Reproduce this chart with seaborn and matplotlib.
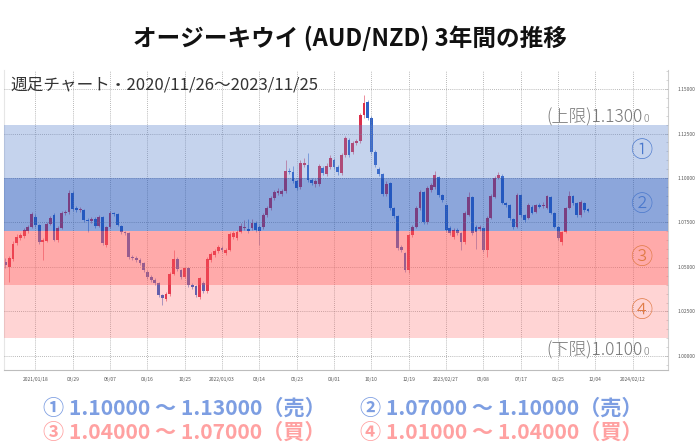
import matplotlib
matplotlib.use("Agg")
import matplotlib.pyplot as plt
import matplotlib.dates as mdates
from matplotlib.ticker import MultipleLocator, FormatStrFormatter
import numpy as np
import pandas as pd
import seaborn as sns

# ---------------- data (weekly AUD/NZD candles) ----------------
start_week = "2020-11-23"
opens = [1.0528, 1.0500, 1.0545, 1.0635, 1.0663, 1.0674, 1.0702, 1.0725, 1.0781, 1.0736,
         1.0640, 1.0646, 1.0742, 1.0792, 1.0652, 1.0719, 1.0803, 1.0809, 1.0916, 1.0831,
         1.0820, 1.0820, 1.0764, 1.0758, 1.0770, 1.0730, 1.0781, 1.0624, 1.0725, 1.0803,
         1.0798, 1.0730, 1.0697, 1.0691, 1.0556, 1.0551, 1.0539, 1.0522, 1.0472, 1.0444,
         1.0427, 1.0410, 1.0343, 1.0320, 1.0348, 1.0461, 1.0545, 1.0483, 1.0444, 1.0494,
         1.0399, 1.0393, 1.0331, 1.0410, 1.0365, 1.0539, 1.0567, 1.0590, 1.0607, 1.0579,
         1.0596, 1.0669, 1.0663, 1.0697, 1.0719, 1.0713, 1.0719, 1.0747, 1.0725, 1.0725,
         1.0792, 1.0831, 1.0888, 1.0916, 1.0910, 1.0927, 1.1039, 1.1034, 1.0983, 1.0949,
         1.1073, 1.1073, 1.0989, 1.0966, 1.0966, 1.1056, 1.1022, 1.1062, 1.1101, 1.1062,
         1.1028, 1.1129, 1.1213, 1.1146, 1.1197, 1.1208, 1.1354, 1.1427, 1.1337, 1.1146,
         1.1051, 1.1022, 1.0910, 1.0972, 1.0831, 1.0787, 1.0612, 1.0579, 1.0483, 1.0680,
         1.0725, 1.0831, 1.0921, 1.0753, 1.0933, 1.0949, 1.1006, 1.0904, 1.0848, 1.0719,
         1.0669, 1.0708, 1.0691, 1.0640, 1.0792, 1.0893, 1.0725, 1.0713, 1.0719, 1.0596,
         1.0775, 1.0893, 1.1000, 1.1011, 1.0860, 1.0848, 1.0770, 1.0725, 1.0904, 1.0792,
         1.0775, 1.0837, 1.0809, 1.0848, 1.0842, 1.0831, 1.0893, 1.0803, 1.0725, 1.0640,
         1.0697, 1.0831, 1.0899, 1.0860, 1.0792, 1.0860, 1.0826]
highs = [1.0551, 1.0562, 1.0646, 1.0685, 1.0691, 1.0719, 1.0736, 1.0809, 1.0798, 1.0742,
         1.0663, 1.0753, 1.0787, 1.0803, 1.0730, 1.0815, 1.0820, 1.0933, 1.0927, 1.0842,
         1.0837, 1.0826, 1.0775, 1.0781, 1.0781, 1.0792, 1.0787, 1.0730, 1.0815, 1.0809,
         1.0803, 1.0736, 1.0702, 1.0697, 1.0567, 1.0562, 1.0551, 1.0528, 1.0483, 1.0455,
         1.0438, 1.0416, 1.0348, 1.0360, 1.0472, 1.0596, 1.0556, 1.0489, 1.0500, 1.0500,
         1.0410, 1.0399, 1.0444, 1.0421, 1.0556, 1.0584, 1.0601, 1.0624, 1.0618, 1.0607,
         1.0697, 1.0702, 1.0708, 1.0747, 1.0764, 1.0770, 1.0770, 1.0758, 1.0736, 1.0803,
         1.0842, 1.0899, 1.0933, 1.0944, 1.0938, 1.1101, 1.1056, 1.1067, 1.0989, 1.1101,
         1.1112, 1.1140, 1.1000, 1.0995, 1.1079, 1.1067, 1.1084, 1.1129, 1.1112, 1.1073,
         1.1140, 1.1236, 1.1225, 1.1208, 1.1219, 1.1365, 1.1466, 1.1438, 1.1348, 1.1157,
         1.1062, 1.1028, 1.0983, 1.0978, 1.0837, 1.0792, 1.0624, 1.0584, 1.0691, 1.0736,
         1.0842, 1.0933, 1.0927, 1.0955, 1.0972, 1.1039, 1.1011, 1.0910, 1.0854, 1.0730,
         1.0719, 1.0719, 1.0697, 1.0815, 1.0921, 1.0899, 1.0736, 1.0736, 1.0725, 1.0787,
         1.0910, 1.1011, 1.1034, 1.1022, 1.0865, 1.0854, 1.0775, 1.0916, 1.0910, 1.0798,
         1.0860, 1.0848, 1.0854, 1.0860, 1.0865, 1.0904, 1.0899, 1.0809, 1.0730, 1.0702,
         1.0837, 1.0927, 1.0904, 1.0865, 1.0876, 1.0865, 1.0831]
lows = [1.0494, 1.0416, 1.0534, 1.0624, 1.0652, 1.0663, 1.0691, 1.0719, 1.0725, 1.0629,
        1.0539, 1.0640, 1.0736, 1.0646, 1.0640, 1.0713, 1.0792, 1.0798, 1.0815, 1.0809,
        1.0809, 1.0753, 1.0697, 1.0747, 1.0719, 1.0725, 1.0624, 1.0612, 1.0719, 1.0787,
        1.0730, 1.0685, 1.0680, 1.0545, 1.0539, 1.0528, 1.0511, 1.0472, 1.0433, 1.0416,
        1.0399, 1.0331, 1.0287, 1.0309, 1.0337, 1.0455, 1.0478, 1.0433, 1.0438, 1.0388,
        1.0376, 1.0331, 1.0320, 1.0354, 1.0354, 1.0528, 1.0556, 1.0579, 1.0584, 1.0567,
        1.0590, 1.0658, 1.0652, 1.0691, 1.0708, 1.0691, 1.0708, 1.0697, 1.0624, 1.0713,
        1.0781, 1.0820, 1.0876, 1.0904, 1.0899, 1.0916, 1.1022, 1.0972, 1.0933, 1.0938,
        1.1062, 1.0978, 1.0961, 1.0949, 1.0955, 1.1017, 1.1011, 1.1051, 1.1051, 1.1017,
        1.1017, 1.1118, 1.1118, 1.1135, 1.1185, 1.1197, 1.1337, 1.1326, 1.1135, 1.1062,
        1.1011, 1.0899, 1.0899, 1.0820, 1.0775, 1.0596, 1.0584, 1.0472, 1.0466, 1.0669,
        1.0719, 1.0820, 1.0742, 1.0742, 1.0921, 1.0938, 1.0893, 1.0865, 1.0697, 1.0680,
        1.0658, 1.0680, 1.0596, 1.0629, 1.0787, 1.0680, 1.0600, 1.0700, 1.0584, 1.0556,
        1.0770, 1.0888, 1.0995, 1.0854, 1.0837, 1.0764, 1.0713, 1.0719, 1.0781, 1.0753,
        1.0770, 1.0798, 1.0803, 1.0831, 1.0831, 1.0826, 1.0798, 1.0719, 1.0652, 1.0624,
        1.0691, 1.0826, 1.0848, 1.0781, 1.0781, 1.0809, 1.0809]
closes = [1.0511, 1.0551, 1.0629, 1.0669, 1.0680, 1.0708, 1.0725, 1.0798, 1.0736, 1.0640,
          1.0652, 1.0742, 1.0775, 1.0652, 1.0719, 1.0803, 1.0809, 1.0916, 1.0826, 1.0820,
          1.0826, 1.0764, 1.0758, 1.0770, 1.0730, 1.0781, 1.0635, 1.0725, 1.0803, 1.0798,
          1.0736, 1.0697, 1.0691, 1.0556, 1.0551, 1.0539, 1.0522, 1.0483, 1.0444, 1.0427,
          1.0410, 1.0343, 1.0326, 1.0348, 1.0461, 1.0545, 1.0489, 1.0444, 1.0494, 1.0399,
          1.0388, 1.0343, 1.0438, 1.0365, 1.0545, 1.0573, 1.0590, 1.0612, 1.0596, 1.0596,
          1.0685, 1.0691, 1.0697, 1.0730, 1.0725, 1.0702, 1.0747, 1.0708, 1.0702, 1.0792,
          1.0831, 1.0888, 1.0921, 1.0927, 1.0927, 1.1039, 1.1034, 1.0983, 1.0944, 1.1084,
          1.1084, 1.0989, 1.0972, 1.0983, 1.1067, 1.1028, 1.1067, 1.1112, 1.1062, 1.1034,
          1.1129, 1.1225, 1.1129, 1.1197, 1.1208, 1.1354, 1.1421, 1.1337, 1.1146, 1.1073,
          1.1022, 1.0910, 1.0966, 1.0831, 1.0787, 1.0607, 1.0596, 1.0483, 1.0680, 1.0725,
          1.0831, 1.0921, 1.0753, 1.0944, 1.0961, 1.1017, 1.0904, 1.0876, 1.0708, 1.0691,
          1.0708, 1.0691, 1.0640, 1.0803, 1.0893, 1.0691, 1.0697, 1.0725, 1.0596, 1.0775,
          1.0899, 1.1000, 1.1017, 1.0860, 1.0848, 1.0775, 1.0725, 1.0904, 1.0792, 1.0764,
          1.0848, 1.0803, 1.0848, 1.0837, 1.0848, 1.0899, 1.0803, 1.0725, 1.0663, 1.0697,
          1.0831, 1.0899, 1.0860, 1.0792, 1.0865, 1.0820, 1.0815]

tick_dates = ["2021-01-18", "2021-03-29", "2021-06-07", "2021-08-16", "2021-10-25",
              "2022-01-03", "2022-03-14", "2022-05-23", "2022-08-01", "2022-10-10",
              "2022-12-19", "2023-02-27", "2023-05-08", "2023-07-17", "2023-09-25",
              "2023-12-04", "2024-02-12"]
tick_labels = ["2021/01/18", "03/29", "06/07", "08/16", "10/25", "2022/01/03", "03/14",
               "05/23", "08/01", "10/10", "12/19", "2023/02/27", "05/08", "07/17",
               "09/25", "12/04", "2024/02/12"]

zone_bounds = [(1.10, 1.13), (1.07, 1.10), (1.04, 1.07), (1.01, 1.04)]
zone_marks = ["①", "②", "③", "④"]
legend_texts = ["① 1.10000 ～ 1.13000（売）", "② 1.07000 ～ 1.10000（売）",
                "③ 1.04000 ～ 1.07000（買）", "④ 1.01000 ～ 1.04000（買）"]
title = "オージーキウイ (AUD/NZD) 3年間の推移"
subtitle = "週足チャート・2020/11/26～2023/11/25"
upper_label = "(上限)1.1300"
lower_label = "(下限)1.0100"

# ---------------- style ----------------
sns.set_theme(style="white")
plt.rcParams["font.family"] = ["Noto Sans CJK JP", "DejaVu Sans"]

W, H = 700, 447
fig = plt.figure(figsize=(W / 100, H / 100), dpi=100)
ax = fig.add_axes([4 / W, 77 / H, 664 / W, 300 / H])

df = pd.DataFrame({"date": pd.date_range(start_week, periods=len(opens), freq="7D"),
                   "open": opens, "high": highs, "low": lows, "close": closes})
df["x"] = mdates.date2num(df["date"])
up = df["close"] >= df["open"]
red, blue = "#dc2f4b", "#2f62c8"
colors = np.where(up, red, blue)

ax.vlines(df["x"], df["low"], df["high"], colors=colors, lw=0.7, alpha=0.55, zorder=2)
body_h = np.maximum((df["close"] - df["open"]).abs(), 0.0004)
ax.bar(df["x"], body_h, bottom=np.minimum(df["open"], df["close"]), width=5.3,
       color=colors, linewidth=0, zorder=2.5)

band_cols = [("#5981ce", 0.35), ("#1a4fb8", 0.5), ("#ff5757", 0.5), ("#ff5757", 0.25)]
for (lo, hi), (c, a) in zip(zone_bounds, band_cols):
    ax.axhspan(lo, hi, color=c, alpha=a, lw=0, zorder=3)

x0 = mdates.date2num(pd.Timestamp(start_week)) - 2.8
x1 = mdates.date2num(pd.Timestamp("2024-04-18"))
ax.set_xlim(x0, x1)
ax.set_ylim(0.9921, 1.1607)

ax.set_xticks(mdates.date2num(pd.to_datetime(tick_dates)))
ax.set_xticklabels(tick_labels)
ax.xaxis.set_minor_locator(mdates.DayLocator(interval=14))
ax.yaxis.tick_right()
ax.yaxis.set_major_locator(MultipleLocator(0.025))
ax.yaxis.set_minor_locator(MultipleLocator(0.005))
ax.yaxis.set_major_formatter(FormatStrFormatter("%.5f"))
ax.tick_params(axis="y", which="major", direction="in", length=2.5, width=0.5,
               color="#bbbbbb", labelsize=3.5, labelcolor="#555555", pad=7)
ax.tick_params(axis="y", which="minor", direction="in", length=1.5, width=0.4, color="#bbbbbb")
ax.tick_params(axis="x", which="major", direction="out", length=2, width=0.5,
               color="#aaaaaa", labelsize=3.5, labelcolor="#555555", pad=3)
ax.tick_params(axis="x", which="minor", direction="out", length=1.2, width=0.4, color="#bbbbbb")

ax.grid(True, which="major", axis="both", linestyle=(0, (1, 1.5)), color="#8a8a8a",
        lw=0.6, alpha=0.8, zorder=4)
ax.set_axisbelow(False)
ax.spines["top"].set_visible(False)
ax.spines["left"].set_color("#e6e6e6")
ax.spines["right"].set_color("#cfcfcf")
ax.spines["bottom"].set_color("#bdbdbd")
for s in ["left", "right", "bottom"]:
    ax.spines[s].set_linewidth(0.8)

# ---------------- texts ----------------
def fx(px):
    return px / W

def fy(py):
    return 1 - py / H

fig.text(0.5, fy(38), title, ha="center", va="center", fontsize=17, fontweight="bold",
         color="#111111")
fig.text(fx(10), fy(85), subtitle, ha="left", va="center", fontsize=12, color="#333333")

for lab, base_y in [(upper_label, 122), (lower_label, 355)]:
    fig.text(fx(643), fy(base_y), lab, ha="right", va="baseline", fontsize=12.5,
             color="#777777", fontweight="light")
    fig.text(fx(644), fy(base_y), "0", ha="left", va="baseline", fontsize=7.5,
             color="#777777", fontweight="light")

mark_cols = ["#4a78cc", "#4a78cc", "#e07a45", "#e07a45"]
for (lo, hi), m, c in zip(zone_bounds, zone_marks, mark_cols):
    yc = (lo + hi) / 2
    ax.text(0.9595, yc, m, transform=ax.get_yaxis_transform(), ha="center", va="center",
            fontsize=16, color=c, fontweight="light", zorder=6)

leg_cols = ["#7d9ee2", "#7d9ee2", "#ffa1a1", "#ffa1a1"]
leg_pos = [(43, 408), (360, 408), (43, 432), (360, 432)]
for t, c, (px, py) in zip(legend_texts, leg_cols, leg_pos):
    fig.text(fx(px), fy(py), t, ha="left", va="center", fontsize=15.2, fontweight="bold",
             color=c)

fig.savefig("out.png", dpi=100)
